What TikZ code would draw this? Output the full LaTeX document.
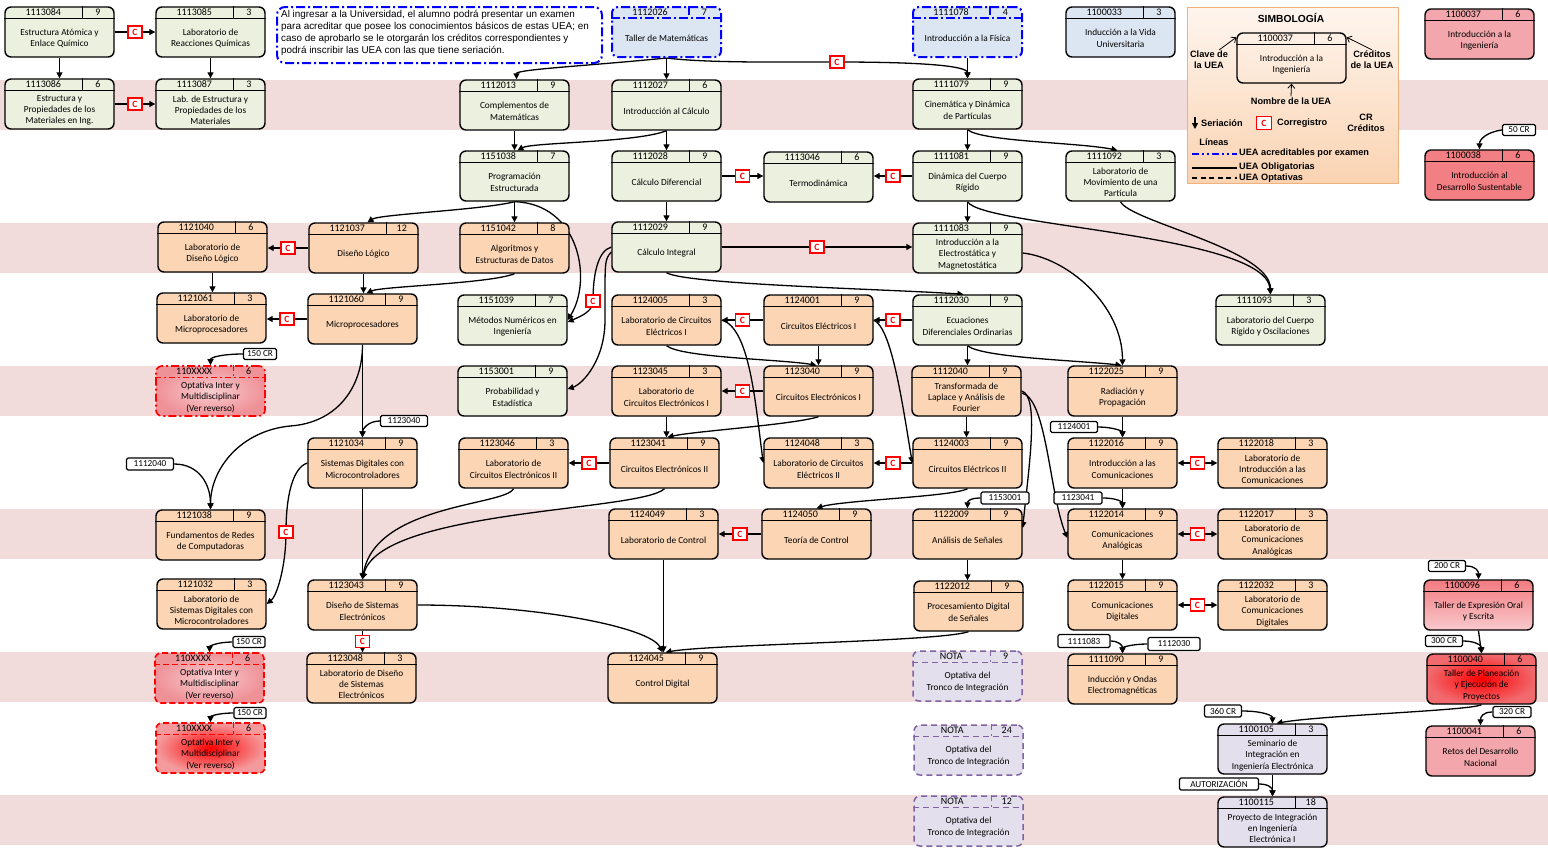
\documentclass[tikz,border=0pt]{standalone}
\usepackage{fontspec}
\setmainfont{Carlito}
\newfontfamily\arialf{Liberation Sans}
\usetikzlibrary{arrows.meta}
\pgfdeclarelayer{bg}
\pgfdeclarelayer{edges}
\pgfsetlayers{bg,edges,main}
\definecolor{grnF}{HTML}{EBF1DE}
\definecolor{orgF}{HTML}{FCD5B4}
\definecolor{bluF}{HTML}{DCE6F2}
\definecolor{lavF}{HTML}{E4DFEC}
\definecolor{bandC}{HTML}{F2DCDB}
\definecolor{purpL}{HTML}{8064A2}
\definecolor{exBlue}{HTML}{0000FF}
\definecolor{rpatC}{HTML}{F3A6AB}
\definecolor{rsalC}{HTML}{F27F83}
\definecolor{rgT}{HTML}{F27A80}
\definecolor{rgB}{HTML}{F9CACD}
\definecolor{rbO}{HTML}{F06A6E}
\definecolor{opaI}{HTML}{F8CDD0}
\definecolor{opaO}{HTML}{EF9298}
\definecolor{opcO}{HTML}{F49A9C}
\definecolor{legT}{HTML}{FEF5EE}
\definecolor{legB}{HTML}{FAD3B2}
\definecolor{legD}{HTML}{F0B27A}
\tikzset{
 ueabox/.style={draw=black, line width=1.4pt, rounded corners=6pt, minimum width=109pt, minimum height=50pt, inner sep=0pt},
 ueaint/.style={draw=black, line width=0.9pt},
 codefont/.style={font=\fontsize{10}{11}\selectfont, inner sep=0pt},
 bodyfont/.style={font=\fontsize{9.3}{11.4}\selectfont, inner sep=0pt, align=center},
 exdash/.style={dash pattern=on 9pt off 3pt on 2pt off 3pt},
 grnbox/.style={fill=grnF}, grnline/.style={},
 orgbox/.style={fill=orgF}, orgline/.style={},
 blubox/.style={fill=bluF}, bluline/.style={},
 lavbox/.style={fill=lavF}, lavline/.style={},
 legbox/.style={}, legline/.style={},
 exbox/.style={fill=bluF, draw=exBlue, line width=2pt, exdash}, exline/.style={draw=exBlue, line width=1.6pt, exdash},
 notabox/.style={fill=lavF, draw=purpL, line width=1.5pt, dash pattern=on 6pt off 4pt}, notaline/.style={draw=purpL, line width=1.5pt, dash pattern=on 6pt off 4pt},
 rpatbox/.style={fill=rpatC}, rpatline/.style={},
 rsalbox/.style={fill=rsalC}, rsalline/.style={},
 rgradbox/.style={top color=rgT, bottom color=rgB}, rgradline/.style={},
 rbrightbox/.style={inner color=red, outer color=rbO}, rbrightline/.style={},
 opabox/.style={draw=red, line width=1.6pt, inner color=opaI, outer color=opaO, dash pattern=on 8pt off 3pt on 2pt off 3pt}, opaline/.style={draw=red, line width=1.4pt, dash pattern=on 6pt off 3pt on 2pt off 3pt},
 opbbox/.style={draw=red, line width=1.6pt, inner color=opaI, outer color=opaO, dash pattern=on 6pt off 3pt}, opbline/.style={draw=red, line width=1.4pt, dash pattern=on 6pt off 3pt},
 opcbox/.style={draw=red, line width=1.6pt, inner color=red, outer color=opcO, dash pattern=on 6pt off 3pt}, opcline/.style={draw=red, line width=1.4pt, dash pattern=on 6pt off 3pt},
 arr/.style={draw=black, line width=1.3pt, -{Triangle[length=6pt,width=6pt]}},
 biarr/.style={draw=black, line width=1.3pt, {Triangle[length=6pt,width=6pt]}-{Triangle[length=6pt,width=6pt]}},
 cbox/.style={draw=red, line width=1.3pt, fill=white, text=red, font=\bfseries\fontsize{9.5}{10}\selectfont, inner sep=0pt, minimum width=14pt, minimum height=12pt},
 lbl/.style={draw=black, fill=white, line width=1.2pt, rounded corners=1.5pt, inner sep=0.5pt, minimum height=11pt, font=\fontsize{9.2}{10}\selectfont},
 legtxt/.style={font=\arialf\bfseries\fontsize{9.2}{11}\selectfont, inner sep=0pt},
 legarr/.style={draw=black, line width=0.8pt, -{Straight Barb[length=4pt,width=7pt]}},
}
\newcommand\uea[7]{%
  \node[ueabox,#1box] (#2) at ({#3+54.5},{#4+25}) {};
  \draw[ueaint,#1line] ([yshift=-12pt]#2.north west) -- ([yshift=-12pt]#2.north east);
  \draw[ueaint,#1line] ([xshift=78pt]#2.north west) -- ([xshift=78pt,yshift=-12pt]#2.north west);
  \node[codefont] at ([xshift=39pt,yshift=-6.3pt]#2.north west) {#5};
  \node[codefont] at ([xshift=93.5pt,yshift=-6.3pt]#2.north west) {#6};
  \node[bodyfont] at ([yshift=-32pt]#2.north) {#7};
}
\begin{document}
\begin{tikzpicture}[x=1pt,y=-1pt,line join=round]
\useasboundingbox (0,0) rectangle (1548,849);
\begin{pgfonlayer}{bg}
\fill[white] (0,0) rectangle (1548,849);
\foreach \t in {79.5,222.5,365.5,508.5,651.5,794.5}{\fill[bandC] (0,\t) rectangle (1548,\t+50.5);}
\end{pgfonlayer}

% note
\node[draw=exBlue, line width=2pt, exdash, rounded corners=8pt, minimum width=325pt, minimum height=56pt, anchor=north west, inner sep=0pt] (note) at (276,6) {};
\node[anchor=north west, align=left, font=\arialf\fontsize{9.9}{11.8}\selectfont, inner sep=0pt] (notetxt) at (281,10.5) {Al ingresar a la Universidad, el alumno podrá presentar un examen\\para acreditar que posee los conocimientos básicos de estas UEA; en\\caso de aprobarlo se le otorgarán los créditos correspondientes y\\podrá inscribir las UEA con las que tiene seriación.};

% legend
\node[draw=legD, line width=0.8pt, top color=legT, bottom color=legB, minimum width=211pt, minimum height=176pt, inner sep=0pt, anchor=north west] (leg) at (1187,7) {};
\node[font=\arialf\bfseries\fontsize{10.3}{12}\selectfont, inner sep=0pt] (legtitle) at (1291,18) {SIMBOLOGÍA};
\uea{leg}{lex}{1237}{33}{1100037}{6}{Introducción a la\\Ingeniería}
\node[legtxt, align=center] (lclave) at (1209,60) {Clave de\\la UEA};
\node[legtxt, align=center] (lcred) at (1372,60) {Créditos\\de la UEA};
\node[legtxt] (lnom) at (1291,101) {Nombre de la UEA};
\draw[legarr] ([xshift=-9pt,yshift=1pt]lclave.north east) -- ([yshift=-5pt]lex.north west);
\draw[legarr] ([yshift=1pt]lcred.north) -- ([yshift=-5pt]lex.north east);
\draw[legarr] ([yshift=1pt]lnom.north) -- (lex.south);
\coordinate (ls1) at (1195,117); \coordinate (ls2) at (1195,129);
\draw[arr] (ls1) -- (ls2);
\node[legtxt, anchor=west] (lser) at (1201,123) {Seriación};
\node[cbox, minimum width=15pt, minimum height=13pt] (lc) at (1264,123) {C};
\node[legtxt, anchor=west] (lcor) at (1277,123) {Corregistro};
\node[legtxt, align=center] (lcr) at (1366,123) {CR\\Créditos};
\node[legtxt] (llin) at (1214,142) {Líneas};
\coordinate (lb1) at (1192,154); \coordinate (lb2) at (1237,154);
\draw[exBlue, line width=1.6pt, dash pattern=on 7pt off 3pt on 2pt off 3pt on 2pt off 3pt] (lb1) -- (lb2);
\node[legtxt, anchor=west] (lt1) at (1239,153) {UEA acreditables por examen};
\coordinate (lo1) at (1192,168); \coordinate (lo2) at (1237,168);
\draw[line width=1.5pt] (lo1) -- (lo2);
\node[legtxt, anchor=west] (lt2) at (1239,167.5) {UEA Obligatorias};
\coordinate (lp1) at (1192,178); \coordinate (lp2) at (1237,178);
\draw[line width=1.5pt, dash pattern=on 5pt off 3.5pt] (lp1) -- (lp2);
\node[legtxt, anchor=west] (lt3) at (1239,178) {UEA Optativas};

% UEA boxes
\uea{grn}{a084}{5}{7}{1113084}{9}{Estructura Atómica y\\Enlace Químico}
\uea{grn}{a085}{156}{7}{1113085}{3}{Laboratorio de\\Reacciones Químicas}
\uea{ex}{m026}{612}{7}{1112026}{7}{Taller de Matemáticas}
\uea{ex}{f078}{913}{7}{1111078}{4}{Introducción a la Física}
\uea{blu}{u033}{1066}{7}{1100033}{3}{Inducción a la Vida\\Universitaria}
\uea{rpat}{i037}{1425}{9}{1100037}{6}{Introducción a la\\Ingeniería}

\uea{grn}{a086}{5}{79}{1113086}{6}{Estructura y\\Propiedades de los\\Materiales en Ing.}
\uea{grn}{a087}{156}{79}{1113087}{3}{Lab. de Estructura y\\Propiedades de los\\Materiales}
\uea{grn}{m013}{460}{80}{1112013}{9}{Complementos de\\Matemáticas}
\uea{grn}{m027}{612}{80}{1112027}{6}{Introducción al Cálculo}
\uea{grn}{f079}{913}{79}{1111079}{9}{Cinemática y Dinámica\\de Partículas}

\uea{grn}{p038}{460}{151}{1151038}{7}{Programación\\Estructurada}
\uea{grn}{m028}{612}{151}{1112028}{9}{Cálculo Diferencial}
\uea{grn}{t046}{764}{152}{1113046}{6}{Termodinámica}
\uea{grn}{f081}{913}{151}{1111081}{9}{Dinámica del Cuerpo\\Rígido}
\uea{grn}{f092}{1066}{151}{1111092}{3}{Laboratorio de\\Movimiento de una\\Partícula}
\uea{rsal}{d038}{1425}{150}{1100038}{6}{Introducción al\\Desarrollo Sustentable}

\uea{org}{e040}{158}{222}{1121040}{6}{Laboratorio de\\Diseño Lógico}
\uea{org}{e037}{309}{223}{1121037}{12}{Diseño Lógico}
\uea{org}{p042}{460}{223}{1151042}{8}{Algoritmos y\\Estructuras de Datos}
\uea{grn}{m029}{612}{222}{1112029}{9}{Cálculo Integral}
\uea{grn}{f083}{913}{223}{1111083}{9}{Introducción a la\\Electrostática y\\Magnetostática}

\uea{org}{e061}{157}{293}{1121061}{3}{Laboratorio de\\Microprocesadores}
\uea{org}{e060}{308}{294}{1121060}{9}{Microprocesadores}
\uea{grn}{p039}{458}{295}{1151039}{7}{Métodos Numéricos en\\Ingeniería}
\uea{org}{c005}{612}{295}{1124005}{3}{Laboratorio de Circuitos\\Eléctricos I}
\uea{org}{c001}{764}{295}{1124001}{9}{Circuitos Eléctricos I}
\uea{grn}{m030}{913}{295}{1112030}{9}{Ecuaciones\\Diferenciales Ordinarias}
\uea{grn}{f093}{1216}{295}{1111093}{3}{Laboratorio del Cuerpo\\Rígido y Oscilaciones}

\uea{opa}{o1}{156}{366}{110XXXX}{6}{Optativa Inter y\\Multidisciplinar\\(Ver reverso)}
\uea{grn}{s001}{458}{366}{1153001}{9}{Probabilidad y\\Estadística}
\uea{org}{c045}{612}{366}{1123045}{3}{Laboratorio de\\Circuitos Electrónicos I}
\uea{org}{c040}{764}{366}{1123040}{9}{Circuitos Electrónicos I}
\uea{org}{m040}{912}{366}{1112040}{9}{Transformada de\\Laplace y Análisis de\\Fourier}
\uea{org}{r025}{1068}{366}{1122025}{9}{Radiación y\\Propagación}

\uea{org}{e034}{308}{438}{1121034}{9}{Sistemas Digitales con\\Microcontroladores}
\uea{org}{c046}{459}{438}{1123046}{3}{Laboratorio de\\Circuitos Electrónicos II}
\uea{org}{c041}{610}{438}{1123041}{9}{Circuitos Electrónicos II}
\uea{org}{c048}{764}{438}{1124048}{3}{Laboratorio de Circuitos\\Eléctricos II}
\uea{org}{c003}{913}{438}{1124003}{9}{Circuitos Eléctricos II}
\uea{org}{r016}{1068}{438}{1122016}{9}{Introducción a las\\Comunicaciones}
\uea{org}{r018}{1218}{438}{1122018}{3}{Laboratorio de\\Introducción a las\\Comunicaciones}

\uea{org}{e038}{156}{510}{1121038}{9}{Fundamentos de Redes\\de Computadoras}
\uea{org}{k049}{609}{509}{1124049}{3}{Laboratorio de Control}
\uea{org}{k050}{762}{509}{1124050}{9}{Teoría de Control}
\uea{org}{s009}{913}{509}{1122009}{9}{Análisis de Señales}
\uea{org}{r014}{1068}{509}{1122014}{9}{Comunicaciones\\Analógicas}
\uea{org}{r017}{1218}{509}{1122017}{3}{Laboratorio de\\Comunicaciones\\Analógicas}

\uea{org}{e032}{157}{579}{1121032}{3}{Laboratorio de\\Sistemas Digitales con\\Microcontroladores}
\uea{org}{c043}{308}{580}{1123043}{9}{Diseño de Sistemas\\Electrónicos}
\uea{org}{s012}{914}{581}{1122012}{9}{Procesamiento Digital\\de Señales}
\uea{org}{r015}{1068}{580}{1122015}{9}{Comunicaciones\\Digitales}
\uea{org}{r032}{1218}{580}{1122032}{3}{Laboratorio de\\Comunicaciones\\Digitales}
\uea{rgrad}{x096}{1424}{580}{1100096}{6}{Taller de Expresión Oral\\y Escrita}

\uea{opb}{o2}{155}{653}{110XXXX}{6}{Optativa Inter y\\Multidisciplinar\\(Ver reverso)}
\uea{org}{c048b}{307}{653}{1123048}{3}{Laboratorio de Diseño\\de Sistemas\\Electrónicos}
\uea{org}{k045}{608}{653}{1124045}{9}{Control Digital}
\uea{nota}{n1}{913}{651}{NOTA}{9}{Optativa del\\Tronco de Integración}
\uea{org}{r090}{1068}{654}{1111090}{9}{Inducción y Ondas\\Electromagnéticas}
\uea{rbright}{x040}{1427}{654}{1100040}{6}{Taller de Planeación\\y Ejecución de\\Proyectos}

\uea{opc}{o3}{156}{723}{110XXXX}{6}{Optativa Inter y\\Multidisciplinar\\(Ver reverso)}
\uea{nota}{n2}{914}{725}{NOTA}{24}{Optativa del\\Tronco de Integración}
\uea{lav}{y105}{1218}{724}{1100105}{3}{Seminario de\\Integración en\\Ingeniería Electrónica}
\uea{rpat}{x041}{1426}{726}{1100041}{6}{Retos del Desarrollo\\Nacional}

\uea{nota}{n3}{914}{796}{NOTA}{12}{Optativa del\\Tronco de Integración}
\uea{lav}{y115}{1218}{797}{1100115}{18}{Proyecto de Integración\\en Ingeniería\\Electrónica I}

% labels
\node[lbl, minimum width=33pt] (l50) at (1519,130) {50 CR};
\node[lbl, minimum width=33pt] (l150a) at (260,354) {150 CR};
\node[lbl, minimum width=47pt] (l1123040) at (404,421) {1123040};
\node[lbl, minimum width=47pt, minimum height=12pt] (l1112040) at (150,464) {1112040};
\node[lbl, minimum width=47pt] (l1124001) at (1074,427) {1124001};
\node[lbl, minimum width=48pt, minimum height=12pt] (l1153001) at (1005,498) {1153001};
\node[lbl, minimum width=48pt, minimum height=12pt] (l1123041) at (1078,498) {1123041};
\node[lbl, minimum width=32pt] (l150b) at (249,642) {150 CR};
\node[lbl, minimum width=32pt] (l150c) at (250,713) {150 CR};
\node[lbl, minimum width=37pt] (l200) at (1447,566) {200 CR};
\node[lbl, minimum width=37pt] (l300) at (1444,641) {300 CR};
\node[lbl, minimum width=38pt] (l320) at (1512,712) {320 CR};
\node[lbl, minimum width=37pt, minimum height=12pt] (l360) at (1223,711) {360 CR};
\node[lbl, minimum width=52pt, minimum height=13pt] (l1111083) at (1084,641) {1111083};
\node[lbl, minimum width=52pt, minimum height=13pt] (l1112030) at (1174,644) {1112030};
\node[lbl, minimum width=79pt, minimum height=12pt] (lauth) at (1219,784) {AUTORIZACIÓN};

\coordinate (k1) at (837,62);
\coordinate (k2) at (593,301);
\coordinate (k3) at (605,320);
\coordinate (k4) at (286,532);
\coordinate (k5) at (290,426);

\begin{pgfonlayer}{edges}
\draw[arr] (a084.south) -- (a086.north);
\draw[arr] (a084.east) -- node[cbox]{C} (a085.west);
\draw[arr] (a085.south) -- (a087.north);
\draw[arr] (a086.east) -- node[cbox]{C} (a087.west);
\draw[arr] (m026.south) .. controls +(-80,8) and +(0,-10) .. ([xshift=2pt]m013.north);
\draw[arr] (m026.south) -- (m027.north);
\draw[arr] (m026.south) .. controls +(40,5) and +(-60,0) .. (k1) .. controls +(90,0) and +(0,-12) .. (f079.north);
\node[cbox] (ck1) at (k1) {C};
\draw[arr] (f078.south) -- (f079.north);
\draw[arr] (m013.south) -- (p038.north);
\draw[arr] (m027.south) .. controls +(-30,12) and +(15,-8) .. ([xshift=3pt]p038.north);
\draw[arr] (m027.south) -- (m028.north);
\draw[arr] (f079.south) -- (f081.north);
\draw[arr] (f079.south) .. controls +(15,12) and +(-40,-8) .. ([xshift=-3pt]f092.north);
\draw[arr] (m028.east) -- node[cbox]{C} (m028.east -| t046.west);
\draw[arr] (f081.west) -- node[cbox]{C} (f081.west -| t046.east);
\draw[arr] (p038.south) .. controls +(-30,8) and +(12,-8) .. ([xshift=4pt]e037.north);
\draw[arr] (p038.south) -- (p042.north);
\draw[arr] (p038.south) .. controls +(65,2) and +(25,-40) .. (p039.east);
\draw[arr] (m028.south) -- (m029.north);
\draw[arr] (f081.south) -- (f083.north);
\draw[arr] (f081.south) .. controls +(15,25) and +(-5,-60) .. (f093.north);
\draw[arr] (f092.south) .. controls +(10,20) and +(0,-45) .. (f093.north);
\draw[arr] (e037.west) -- node[cbox]{C} (e037.west -| e040.east);
\draw[arr] (m029.east) -- node[cbox]{C} (m029.east -| f083.west);
\draw[arr] (m029.west) .. controls +(-14,4) and +(0,-25) .. (k2) .. controls +(0,10) and +(14,-6) .. ([yshift=-2pt]p039.east);
\node[cbox] (ck2) at (k2) {C};
\draw[arr] ([yshift=-5pt]m029.west) .. controls +(-7,8) and +(0,-60) .. (k3) .. controls +(0,40) and +(15,-5) .. ([yshift=2pt]s001.east);
\draw[arr] (e040.south) -- (e040.south |- e061.north);
\draw[arr] (e037.south) -- (e037.south |- e060.north);
\draw[arr] (p042.south) .. controls +(-25,10) and +(15,-7) .. ([xshift=4pt]e060.north);
\draw[arr] (m029.south) .. controls +(20,12) and +(-70,-5) .. ([xshift=-4pt]m030.north);
\draw[arr] ([yshift=-5pt]f083.east) .. controls +(45,5) and +(0,-60) .. (r025.north);
\draw[arr] (e060.west) -- node[cbox]{C} (e060.west -| e061.east);
\draw[arr] (c001.west) -- node[cbox]{C} (c005.east);
\draw[arr] (m030.west) -- node[cbox]{C} (c001.east);
\draw[arr] (c005.east) .. controls +(28,8) and +(-8,-60) .. (c048.west);
\draw[arr] (c005.south) .. controls +(15,12) and +(-35,-6) .. ([xshift=-2pt]c040.north);
\draw[arr] (c001.south) -- (c040.north);
\draw[arr] (c001.east) .. controls +(18,8) and +(-10,-60) .. (c003.west);
\draw[arr] (m030.south) -- (m030.south |- m040.north);
\draw[arr] (m030.south) .. controls +(15,12) and +(-45,-5) .. ([xshift=-1pt]r025.north);
\draw[arr] (c040.west) -- node[cbox]{C} (c045.east);
\draw[arr] (c045.south) -- (c045.south |- c041.north);
\draw[arr] (c040.south) .. controls +(-25,8) and +(25,-6) .. ([xshift=3pt]c041.north);
\draw[arr] (m040.south) -- (m040.south |- c003.north);
\draw[arr] (m040.east) .. controls +(18,5) and +(6,-60) .. ([yshift=6pt]s009.east);
\draw[arr] ([yshift=-2pt]m040.east) .. controls +(25,5) and +(-18,-45) .. ([yshift=-4pt]r014.west);
\draw[arr] (r025.south) -- (r025.south |- r016.north);
\draw[biarr] (r016.east) -- node[cbox]{C} (r018.west);
\draw[arr] (r016.south) -- (r014.north);
\draw[arr] (c041.west) -- node[cbox]{C} (c046.east);
\draw[arr] (c003.west) -- node[cbox]{C} (c048.east);
\draw[arr] (c003.south) .. controls +(-15,8) and +(25,-8) .. (k050.north);
\draw[arr] (c041.south) .. controls +(-24,23) and +(17,-70) .. (c043.north);
\draw[arr] (c046.south) .. controls +(-8,17) and +(12,-75) .. (c043.north);
\draw[arr] (e034.south) -- (c043.north);
\draw[arr] (e034.west) .. controls +(-15,5) and +(0,-35) .. (k4) .. controls +(0,35) and +(10,-8) .. (e032.east);
\node[cbox] (ck4) at (k4) {C};
\draw[arr] (e060.south) -- (e034.north);
\draw[arr] (e060.south) .. controls +(0,45) and +(45,-3) .. (k5) .. controls +(-50,5) and +(0,-40) .. (e038.north);
\draw[arr] (k050.west) -- node[cbox]{C} (k049.east);
\draw[biarr] (r014.east) -- node[cbox]{C} (r017.west);
\draw[arr] (r014.south) -- (r015.north);
\draw[biarr] (r015.east) -- node[cbox]{C} (r032.west);
\draw[arr] (s009.south) -- (s009.south |- s012.north);
\draw[arr] (c043.south) -- node[cbox]{C} (c043.south |- c048b.north);
\draw[arr] (c043.east) .. controls +(120,0) and +(-12,-25) .. (k045.north);
\draw[arr] (k049.south) -- (k049.south |- k045.north);
\draw[arr] (s012.south) .. controls +(-30,10) and +(45,-8) .. ([xshift=3pt]k045.north);
\draw[arr] (x096.south) -- (x040.north);
\draw[arr] (x040.south) .. controls +(-12,6) and +(45,-8) .. ([xshift=4pt]y105.north);
\draw[arr] (y105.south) -- (y115.north);
% label arrows
\draw[arr] (l50.west) .. controls +(-15,2) and +(0,-10) .. (d038.north);
\draw[arr] (l150a.west) .. controls +(-20,0) and +(0,-8) .. (o1.north);
\draw[arr] (l1123040.west) .. controls +(-12,0) and +(0,-8) .. (e034.north);
\draw[arr] (l1112040.east) .. controls +(25,0) and +(0,-25) .. (e038.north);
\draw[arr] (l1124001.east) .. controls +(15,0) and +(0,-6) .. (r016.north);
\draw[arr] (l1153001.west) .. controls +(-12,0) and +(0,-6) .. (s009.north);
\draw[arr] (l1123041.east) .. controls +(15,0) and +(0,-6) .. (r014.north);
\draw[arr] (l150b.west) .. controls +(-15,0) and +(0,-6) .. (o2.north);
\draw[arr] (l150c.west) .. controls +(-15,0) and +(0,-6) .. (o3.north);
\draw[arr] (l200.east) .. controls +(10,0) and +(0,-8) .. (x096.north);
\draw[arr] (l300.east) .. controls +(12,0) and +(0,-8) .. (x040.north);
\draw[arr] (l320.west) .. controls +(-10,0) and +(0,-8) .. (x041.north);
\draw[arr] (l360.east) .. controls +(20,0) and +(0,-8) .. (y105.north);
\draw[arr] (l1111083.east) .. controls +(8,0) and +(0,-8) .. (r090.north);
\draw[arr] (l1112030.west) .. controls +(-15,0) and +(0,-6) .. (r090.north);
\draw[arr] (lauth.east) .. controls +(10,0) and +(0,-8) .. (y115.north);
\end{pgfonlayer}
\end{tikzpicture}
\end{document}
